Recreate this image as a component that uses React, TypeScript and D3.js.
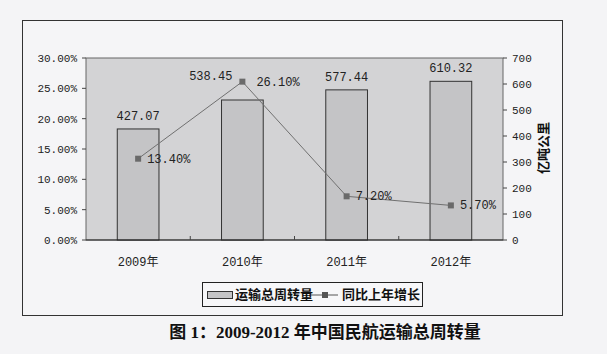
import React from 'react';
import {scaleBand, scaleLinear} from 'd3';

// données
const years = ['2009年', '2010年', '2011年', '2012年'];
const volume = [427.07, 538.45, 577.44, 610.32];
const growth = [13.4, 26.1, 7.2, 5.7];
const leftTicks = [0, 5, 10, 15, 20, 25, 30];
const rightTicks = [0, 100, 200, 300, 400, 500, 600, 700];
const seriesNames = ['运输总周转量', '同比上年增长'];
const rightTitle = '亿吨公里';
const caption = '图 1：2009-2012 年中国民航运输总周转量';

const W = 607;
const H = 354;
const plot = {left: 86, right: 503, top: 58, bottom: 240};
const mono = '"Liberation Mono", "Noto Sans CJK SC", monospace';

export default function App() {
  const x = scaleBand<string>()
    .domain(years)
    .range([plot.left, plot.right])
    .paddingInner(0.6)
    .paddingOuter(0.3);
  const yL = scaleLinear().domain([0, 30]).range([plot.bottom, plot.top]);
  const yR = scaleLinear().domain([0, 700]).range([plot.bottom, plot.top]);
  const cx = (d: string) => (x(d) as number) + x.bandwidth() / 2;
  const step = x.step();

  const linePts = years.map((d, i) => [cx(d), yL(growth[i])]);
  const path = 'M' + linePts.map(p => p.join(',')).join('L');

  return (
    <svg
      width={W}
      height={H}
      style={{position: 'absolute', left: 0, top: 0}}
      fontFamily={mono}
    >
      <rect x={0} y={0} width={W} height={H} fill="#f4f4f6" />
      {/* cadre du graphique */}
      <rect x={22.5} y={20.5} width={540} height={295} fill="#f5f5f7" stroke="#333" />
      {/* zone de tracé */}
      <rect
        x={plot.left}
        y={plot.top}
        width={plot.right - plot.left}
        height={plot.bottom - plot.top}
        fill="#d3d3d5"
        stroke="#666"
      />
      {/* axe gauche */}
      {leftTicks.map(t => (
        <g key={'l' + t}>
          <line x1={plot.left - 4} x2={plot.left} y1={yL(t)} y2={yL(t)} stroke="#444" />
          <text x={plot.left - 9} y={yL(t) + 4} textAnchor="end" fontSize={11} fill="#222">
            {t.toFixed(2) + '%'}
          </text>
        </g>
      ))}
      {/* axe droit */}
      {rightTicks.map(t => (
        <g key={'r' + t}>
          <line x1={plot.right} x2={plot.right + 4} y1={yR(t)} y2={yR(t)} stroke="#444" />
          <text x={plot.right + 9} y={yR(t) + 4} fontSize={11} fill="#222">
            {t}
          </text>
        </g>
      ))}
      <text
        transform={`translate(${544},${148}) rotate(-90)`}
        textAnchor="middle"
        dominantBaseline="middle"
        fontSize={13}
        fontWeight="bold"
        fontFamily='"Noto Sans CJK SC", sans-serif'
        fill="#111"
      >
        {rightTitle}
      </text>
      {/* barres */}
      {years.map((d, i) => (
        <rect
          key={d}
          x={x(d)}
          y={yR(volume[i])}
          width={x.bandwidth()}
          height={plot.bottom - yR(volume[i])}
          fill="#c4c4c6"
          stroke="#333"
        />
      ))}
      {/* axe des x */}
      <line x1={plot.left} x2={plot.right} y1={plot.bottom} y2={plot.bottom} stroke="#222" />
      {years.slice(1).map((d, i) => (
        <line
          key={'xt' + i}
          x1={plot.left + step * (i + 1)}
          x2={plot.left + step * (i + 1)}
          y1={plot.bottom}
          y2={plot.bottom - 4}
          stroke="#444"
        />
      ))}
      {years.map(d => (
        <text key={'xl' + d} x={cx(d)} y={plot.bottom + 26} textAnchor="middle" fontSize={12} fill="#222">
          {d}
        </text>
      ))}
      {/* courbe */}
      <path d={path} fill="none" stroke="#707070" strokeWidth={1} />
      {linePts.map((p, i) => (
        <rect key={'m' + i} x={p[0] - 3} y={p[1] - 3} width={6} height={6} fill="#6a6a6a" />
      ))}
      {/* étiquettes */}
      {years.map((d, i) =>
        i === 1 ? (
          <text key={'v' + d} x={cx(d) - 10} y={linePts[i][1] - 2} textAnchor="end" fontSize={12} fill="#222">
            {volume[i].toFixed(2)}
          </text>
        ) : (
          <text key={'v' + d} x={cx(d)} y={yR(volume[i]) - 9} textAnchor="middle" fontSize={12} fill="#222">
            {volume[i].toFixed(2)}
          </text>
        )
      )}
      {linePts.map((p, i) => (
        <text key={'g' + i} x={p[0] + (i === 1 ? 14 : 9)} y={p[1] + 4} fontSize={12} fill="#222">
          {growth[i].toFixed(2) + '%'}
        </text>
      ))}
      {/* légende */}
      <g fontFamily='"Noto Sans CJK SC", sans-serif' fontWeight="bold" fontSize={13} fill="#111">
        <rect x={202.5} y={282.5} width={220} height={24} fill="#f7f7f9" stroke="#222" />
        <rect x={207.5} y={291.5} width={25} height={7} fill="#c4c4c6" stroke="#333" />
        <text x={235} y={299}>{seriesNames[0]}</text>
        <line x1={311} x2={338} y1={295} y2={295} stroke="#555" />
        <rect x={322} y={292} width={6} height={6} fill="#555" />
        <text x={342} y={299}>{seriesNames[1]}</text>
      </g>
      {/* titre */}
      <text
        x={325}
        y={338}
        textAnchor="middle"
        fontSize={17}
        fontWeight="bold"
        fontFamily='"Liberation Serif", "Noto Sans CJK SC", serif'
        fill="#111"
      >
        {caption}
      </text>
    </svg>
  );
}
